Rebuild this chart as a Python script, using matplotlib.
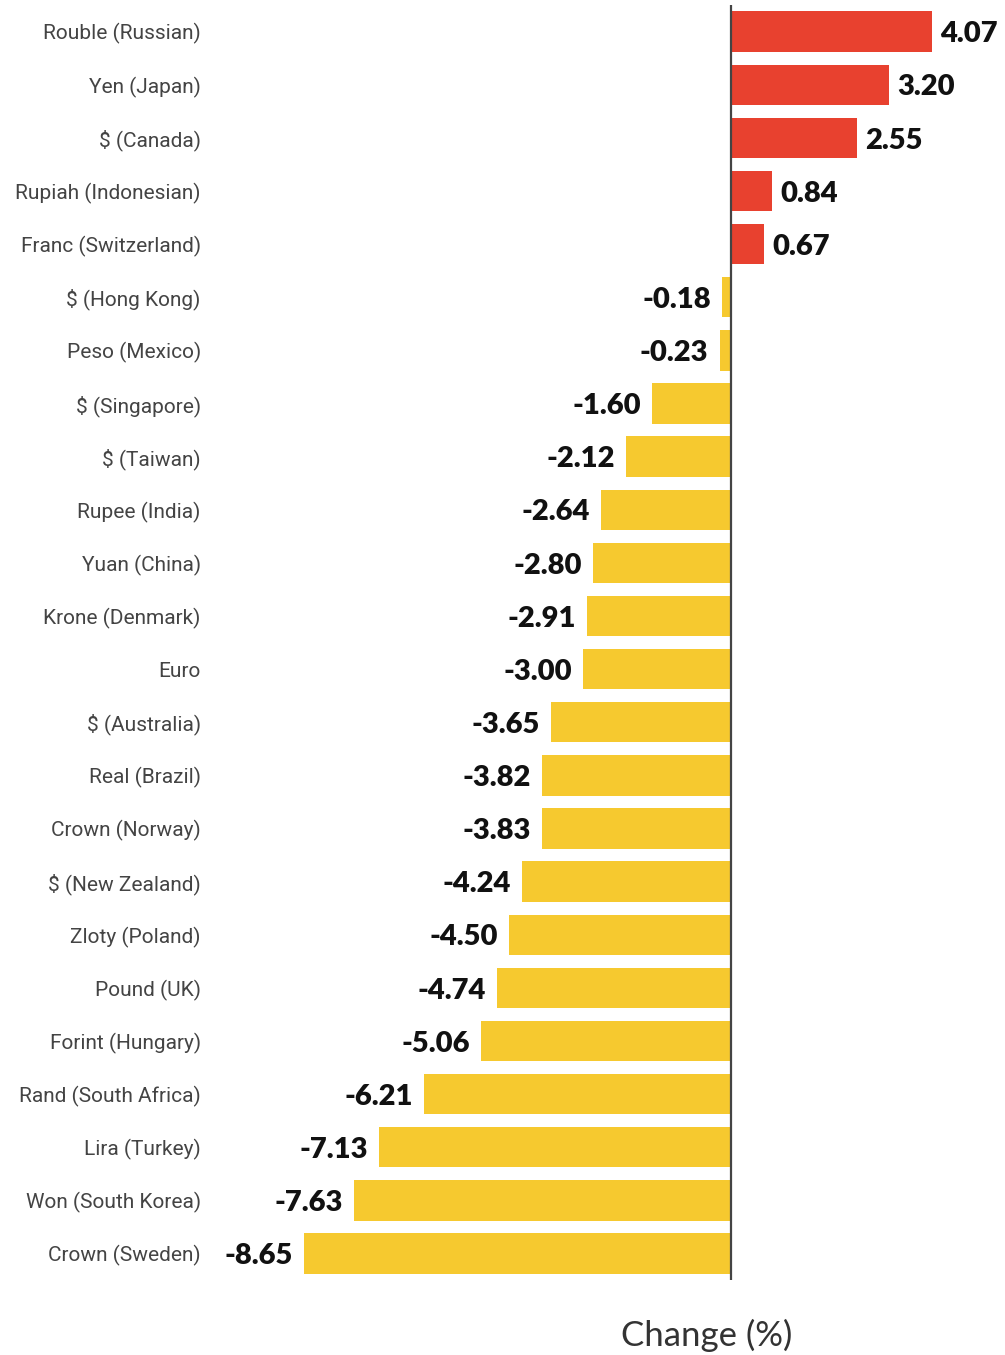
import matplotlib
matplotlib.use("Agg")
import matplotlib.pyplot as plt

currencies = [
    "Rouble (Russian)", "Yen (Japan)", "$ (Canada)", "Rupiah (Indonesian)",
    "Franc (Switzerland)", "$ (Hong Kong)", "Peso (Mexico)", "$ (Singapore)",
    "$ (Taiwan)", "Rupee (India)", "Yuan (China)", "Krone (Denmark)", "Euro",
    "$ (Australia)", "Real (Brazil)", "Crown (Norway)", "$ (New Zealand)",
    "Zloty (Poland)", "Pound (UK)", "Forint (Hungary)", "Rand (South Africa)",
    "Lira (Turkey)", "Won (South Korea)", "Crown (Sweden)",
]
change = [4.07, 3.20, 2.55, 0.84, 0.67, -0.18, -0.23, -1.60, -2.12, -2.64,
          -2.80, -2.91, -3.00, -3.65, -3.82, -3.83, -4.24, -4.50, -4.74,
          -5.06, -6.21, -7.13, -7.63, -8.65]

red = "#E8412F"
yellow = "#F6C92F"

fig = plt.figure(figsize=(10.05, 13.55), dpi=100)
W, H = 1005, 1355
ax = fig.add_axes([205 / W, 1 - 1280 / H, 800 / W, 1275 / H])

ypos = list(range(len(currencies)))
colors = [red if v > 0 else yellow for v in change]
ax.barh(ypos, change, height=0.76, color=colors)
ax.axvline(0, color="#444444", lw=1.6)

# value labels: right of red bars, left of yellow bars
for y, v in zip(ypos, change):
    if v > 0:
        ax.annotate(f"{v:.2f}", (v, y), xytext=(6, -2), textcoords="offset points",
                    ha="left", va="center", fontsize=21, fontweight="heavy",
                    family=["Lato", "DejaVu Sans"], color="#111111")
    else:
        ax.annotate(f"{v:.2f}", (v, y), xytext=(-8, -2), textcoords="offset points",
                    ha="right", va="center", fontsize=21, fontweight="heavy",
                    family=["Lato", "DejaVu Sans"], color="#111111")

ax.set_xlim(-10.65, 5.55)
ax.set_ylim(23.5, -0.5)
ax.set_yticks(ypos)
ax.set_yticklabels(currencies, fontsize=15, color="#444444",
                   family=["Roboto", "DejaVu Sans"])
ax.tick_params(axis="y", length=0, pad=3)
ax.set_xticks([])
for s in ax.spines.values():
    s.set_visible(False)

fig.text(707 / W, 1 - 1335 / H, "Change (%)", ha="center", va="center",
         fontsize=25, color="#333333", family=["Lato", "DejaVu Sans"])

fig.savefig("out.png", dpi=100)
